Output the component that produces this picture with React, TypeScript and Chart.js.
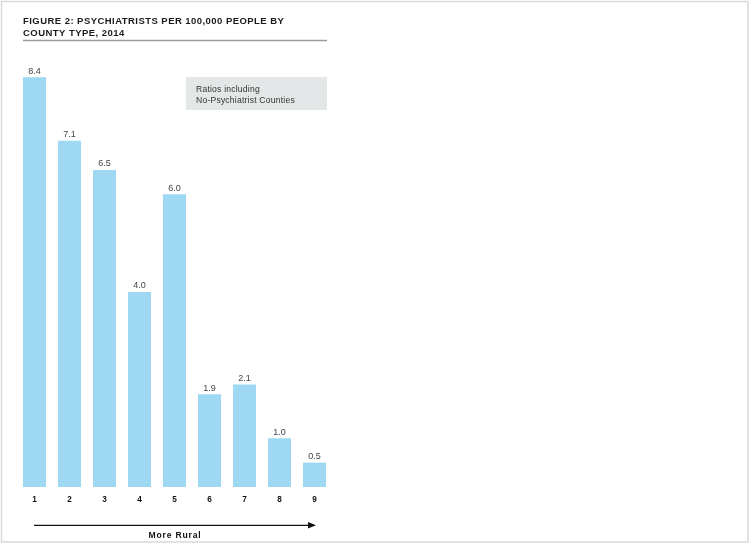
import React, { useEffect, useRef } from "react";
import { Chart, registerables } from "chart.js";

Chart.register(...registerables);

const categories = ["1", "2", "3", "4", "5", "6", "7", "8", "9"];
const values = [8.4, 7.1, 6.5, 4.0, 6.0, 1.9, 2.1, 1.0, 0.5];
const titleLines = ["FIGURE 2: PSYCHIATRISTS PER 100,000 PEOPLE BY", "COUNTY TYPE, 2014"];
const legendLines = ["Ratios including", "No-Psychiatrist Counties"];
const axisCaption = "More Rural";

const FONT = "'Liberation Sans', Arial, sans-serif";

const decorPlugin = {
  id: "decor",
  beforeDraw(chart: any) {
    const ctx = chart.ctx;
    ctx.save();
    ctx.fillStyle = "#ffffff";
    ctx.fillRect(0, 0, chart.width, chart.height);
    ctx.strokeStyle = "#d9d9d9";
    ctx.lineWidth = 1.5;
    ctx.strokeRect(1.5, 1.5, 746.5, 540.5);
    ctx.restore();
  },
  afterDatasetsDraw(chart: any) {
    const ctx = chart.ctx;
    const x = chart.scales.x;
    const meta = chart.getDatasetMeta(0);
    ctx.save();
    // title
    ctx.fillStyle = "#1a1a1a";
    ctx.font = `bold 9.5px ${FONT}`;
    ctx.letterSpacing = "0.45px";
    ctx.textBaseline = "alphabetic";
    ctx.textAlign = "left";
    ctx.fillText(titleLines[0], 23, 24);
    ctx.fillText(titleLines[1], 23, 35.7);
    ctx.strokeStyle = "#9a9a9a";
    ctx.lineWidth = 1.5;
    ctx.beginPath();
    ctx.moveTo(23, 40.5);
    ctx.lineTo(327, 40.5);
    ctx.stroke();

    // legend box
    ctx.fillStyle = "#e4e7e7";
    ctx.fillRect(186, 77, 141, 33);
    ctx.fillStyle = "#333333";
    ctx.font = `8.6px ${FONT}`;
    ctx.letterSpacing = "0.2px";
    ctx.fillText(legendLines[0], 196, 92.3);
    ctx.fillText(legendLines[1], 196, 102.7);

    // value labels
    ctx.fillStyle = "#444444";
    ctx.font = `9px ${FONT}`;
    ctx.letterSpacing = "0px";
    ctx.textAlign = "center";
    meta.data.forEach((bar: any, i: number) => {
      ctx.fillText(values[i].toFixed(1), bar.x, bar.y - 3.5);
    });

    // tick labels
    ctx.fillStyle = "#111111";
    ctx.font = `bold 8.2px ${FONT}`;
    categories.forEach((c, i) => {
      ctx.fillText(c, x.getPixelForTick(i), 502.3);
    });

    // arrow
    ctx.strokeStyle = "#111111";
    ctx.lineWidth = 1.3;
    ctx.beginPath();
    ctx.moveTo(34, 525.3);
    ctx.lineTo(309, 525.3);
    ctx.stroke();
    ctx.fillStyle = "#111111";
    ctx.beginPath();
    ctx.moveTo(316, 525.3);
    ctx.lineTo(308, 522);
    ctx.lineTo(308, 528.6);
    ctx.closePath();
    ctx.fill();

    ctx.font = `bold 8.6px ${FONT}`;
    ctx.letterSpacing = "0.8px";
    ctx.fillText(axisCaption, 175, 537.8);
    ctx.restore();
  },
};

export default function App() {
  const ref = useRef<HTMLCanvasElement | null>(null);
  useEffect(() => {
    if (!ref.current) return;
    const chart = new Chart(ref.current, {
      type: "bar",
      data: {
        labels: categories,
        datasets: [
          {
            data: values,
            backgroundColor: "#9fd8f3",
            borderWidth: 0,
            categoryPercentage: 1,
            barPercentage: 0.657,
          },
        ],
      },
      options: {
        responsive: false,
        animation: false,
        devicePixelRatio: 1,
        layout: { padding: { left: 17, right: 418, top: 48, bottom: 57 } },
        plugins: { legend: { display: false }, tooltip: { enabled: false }, title: { display: false } },
        scales: {
          x: { display: false },
          y: { display: false, min: 0, max: 9 },
        },
      },
      plugins: [decorPlugin],
    });
    return () => chart.destroy();
  }, []);
  return (
    <div style={{ position: "absolute", left: 0, top: 0, width: 750, height: 544 }}>
      <canvas ref={ref} width={750} height={544} />
    </div>
  );
}
